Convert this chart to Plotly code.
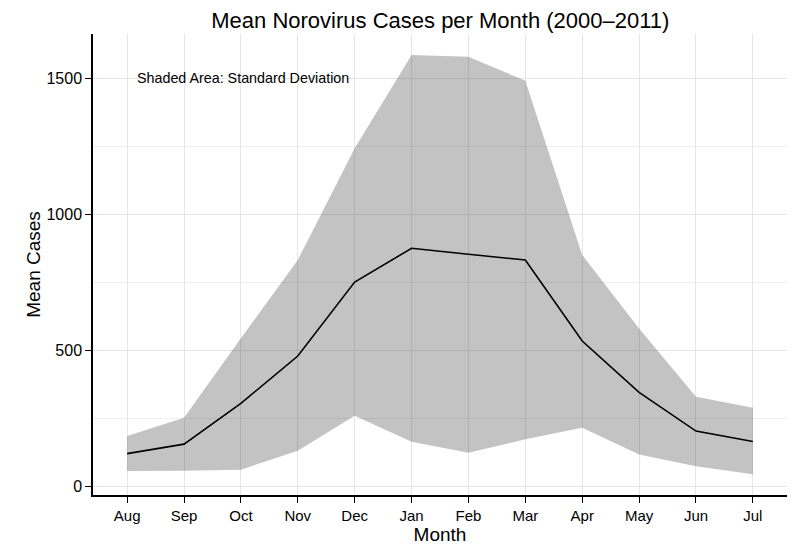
import plotly.graph_objects as go

months = ["Aug", "Sep", "Oct", "Nov", "Dec", "Jan", "Feb", "Mar", "Apr", "May", "Jun", "Jul"]
mean_cases = [119, 154, 304, 478, 750, 874, 852, 831, 533, 344, 202, 164]
upper_sd = [184, 251, 543, 831, 1242, 1585, 1578, 1490, 849, 579, 328, 288]
lower_sd = [55, 56, 60, 130, 258, 163, 122, 172, 214, 116, 73, 43]

x = list(range(len(months)))

fig = go.Figure()
fig.add_trace(go.Scatter(x=x, y=upper_sd, mode="lines", line=dict(width=0),
                         showlegend=False, hoverinfo="skip"))
fig.add_trace(go.Scatter(x=x, y=lower_sd, mode="lines", line=dict(width=0),
                         fill="tonexty", fillcolor="rgba(0,0,0,0.235)",
                         showlegend=False, hoverinfo="skip"))
fig.add_trace(go.Scatter(x=x, y=mean_cases, mode="lines",
                         line=dict(color="black", width=1.6), showlegend=False))

font = "Liberation Sans, Arial, Helvetica, sans-serif"
fig.update_layout(
    width=808, height=549,
    margin=dict(l=93, r=21, t=34, b=54),
    paper_bgcolor="white", plot_bgcolor="white",
    font=dict(family=font, color="black", size=15),
    title=dict(text="Mean Norovirus Cases per Month (2000\u20132011)", x=0.545, xanchor="center",
               y=0.963, yanchor="middle", font=dict(size=22, color="black")),
    xaxis=dict(
        tickmode="array", tickvals=x, ticktext=months, range=[-0.6, 11.6],
        showgrid=True, gridcolor="#e6e6e6", gridwidth=1,
        showline=True, linecolor="black", linewidth=1.5,
        ticks="outside", ticklen=6, tickcolor="black", zeroline=False,
        title=dict(text="Month", font=dict(size=19), standoff=0),
        tickfont=dict(size=15),
    ),
    yaxis=dict(
        range=[-33, 1662], tickvals=[0, 500, 1000, 1500],
        showgrid=True, gridcolor="#e6e6e6", gridwidth=1,
        minor=dict(dtick=250, tick0=0, showgrid=True, gridcolor="#f0f0f0", ticks=""),
        showline=True, linecolor="black", linewidth=1.5,
        ticks="outside", ticklen=6, tickcolor="black", zeroline=False,
        title=dict(text="Mean Cases", font=dict(size=19), standoff=1),
        tickfont=dict(size=16),
    ),
    annotations=[dict(x=0.14, y=1500, xref="x", yref="y", text="Shaded Area: Standard Deviation",
                      showarrow=False, xanchor="left", yanchor="middle",
                      font=dict(size=14.3, color="black"))],
)

fig.write_html("out.html")
